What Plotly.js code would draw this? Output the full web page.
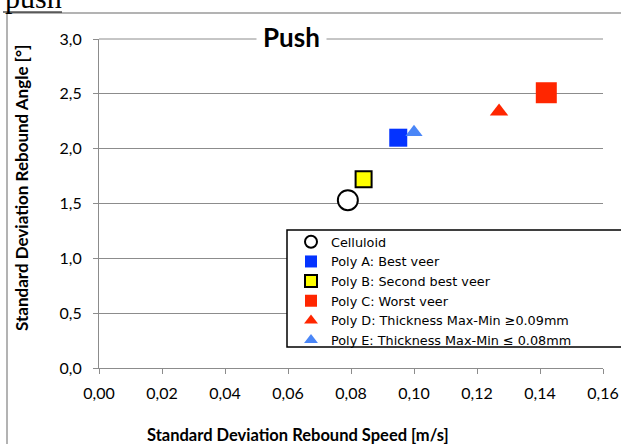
<!DOCTYPE html>
<html><head><meta charset="utf-8">
<script src="https://cdn.plot.ly/plotly-3.0.1.min.js"></script>
<style>html,body{margin:0;padding:0;background:#fff}#chart{width:621px;height:444px}</style>
</head><body><div id="chart"></div>
<script>
// ---- data ----
const seriesNames = ["Celluloid", "Poly A: Best veer", "Poly B: Second best veer", "Poly C: Worst veer", "Poly D: Thickness Max-Min ≥0.09mm", "Poly E: Thickness Max-Min ≤ 0.08mm"];
const speedSD = [0.079, 0.095, 0.084, 0.142, 0.127, 0.100];
const angleSD = [1.53, 2.10, 1.72, 2.51, 2.34, 2.15];
const xTickVals = [0, 0.02, 0.04, 0.06, 0.08, 0.10, 0.12, 0.14, 0.16];
const yTickVals = [0, 0.5, 1.0, 1.5, 2.0, 2.5, 3.0];
const yMax = 3.0;
const chartTitle = "Push";
const xTitle = "Standard Deviation Rebound Speed [m/s]";
const yTitle = "Standard Deviation Rebound Angle [°]";
const pageLabel = "push";

// ---- styles ----
const markerStyles = [
  {symbol: "circle", color: "#ffffff", size: 20, line: {color: "#000000", width: 2}},
  {symbol: "square", color: "#0433ff", size: 18, line: {color: "#0433ff", width: 0}},
  {symbol: "square", color: "#ffff00", size: 16, line: {color: "#000000", width: 2}},
  {symbol: "square", color: "#ff2600", size: 21, line: {color: "#ff2600", width: 0}},
  {symbol: "triangle-up", color: "#ff2600", size: 16, line: {color: "#ff2600", width: 0}},
  {symbol: "triangle-up", color: "#4a86f7", size: 15, line: {color: "#4a86f7", width: 0}}
];
const gridColor = "#8c8c8c";

const W = 621, H = 444;
const M = {l: 99, r: 18, t: 39, b: 76};
const pw = W - M.l - M.r, ph = H - M.t - M.b;
const px = v => (v - M.l) / pw;
const py = v => (H - M.b - v) / ph;

const traces = seriesNames.map((name, i) => ({
  type: "scatter", mode: "markers", name: name,
  x: [speedSD[i]], y: [angleSD[i]],
  marker: markerStyles[i],
  cliponaxis: false
}));

const layout = {
  width: W, height: H,
  margin: {l: M.l, r: M.r, t: M.t, b: M.b, autoexpand: false},
  paper_bgcolor: "#ffffff", plot_bgcolor: "#ffffff",
  separators: ", ",
  font: {family: "Lato, 'Open Sans', sans-serif", size: 15, color: "#000000"},
  xaxis: {
    range: [0, 0.16], tickvals: xTickVals, tickformat: ".2f",
    showgrid: false, zeroline: false,
    showline: true, linecolor: gridColor, linewidth: 1,
    ticks: "outside", ticklen: 5, tickcolor: gridColor, tickwidth: 1,
    ticklabelstandoff: 6,
    tickfont: {family: "Lato, sans-serif", size: 16, color: "#000"}
  },
  yaxis: {
    range: [0, yMax], tickvals: yTickVals, tickformat: ".1f",
    showgrid: true, gridcolor: gridColor, gridwidth: 1, zeroline: false,
    showline: true, linecolor: gridColor, linewidth: 1,
    ticks: "outside", ticklen: 5, tickcolor: gridColor, tickwidth: 1,
    ticklabelstandoff: 8,
    tickfont: {family: "Lato, sans-serif", size: 16, color: "#000"}
  },
  showlegend: true,
  legend: {
    x: px(291), y: py(227), xanchor: "left", yanchor: "top",
    xref: "paper", yref: "paper",
    bgcolor: "rgba(0,0,0,0)", borderwidth: 0,
    font: {family: "'DejaVu Sans', sans-serif", size: 12.8, color: "#000"},
    itemsizing: "constant", tracegroupgap: 0
  },
  shapes: [
    {type: "rect", xref: "paper", yref: "paper", x0: px(7), x1: px(660), y0: py(13), y1: py(480),
     line: {color: "#9a9a9a", width: 1.5}, fillcolor: "rgba(0,0,0,0)", layer: "below"},
    {type: "line", xref: "paper", yref: "paper", x0: 0, x1: 1, y0: 1, y1: 1,
     line: {color: gridColor, width: 1}, layer: "above"},
    {type: "rect", xref: "paper", yref: "paper", x0: px(287), x1: px(625), y0: py(230), y1: py(347),
     line: {color: "#000000", width: 1.5}, fillcolor: "#ffffff", layer: "above"},
    {type: "line", xref: "paper", yref: "paper", x0: px(3), x1: px(62), y0: py(12), y1: py(12),
     line: {color: "#000000", width: 1.2}}
  ],
  annotations: [
    {text: "<b>" + chartTitle + "</b>", xref: "paper", yref: "paper", x: px(291), y: py(37),
     xanchor: "center", yanchor: "middle", showarrow: false, bgcolor: "#ffffff", borderpad: 6,
     font: {family: "Lato, sans-serif", size: 26, color: "#000"}},
    {text: "<b>" + xTitle + "</b>", xref: "paper", yref: "paper", x: px(297.5), y: py(435),
     xanchor: "center", yanchor: "middle", showarrow: false,
     font: {family: "Lato, sans-serif", size: 16.5, color: "#000"}},
    {text: "<b>" + yTitle + "</b>", xref: "paper", yref: "paper", x: px(21), y: py(188),
     xanchor: "center", yanchor: "middle", showarrow: false, textangle: -90,
     font: {family: "Lato, sans-serif", size: 17, color: "#000"}},
    {text: pageLabel, xref: "paper", yref: "paper", x: px(3), y: py(15.5),
     xanchor: "left", yanchor: "bottom", showarrow: false, borderpad: 1,
     font: {family: "'Liberation Serif', serif", size: 30, color: "#000"}}
  ]
};

Plotly.newPlot("chart", traces, layout, {displayModeBar: false, staticPlot: true});
</script>
</body></html>
